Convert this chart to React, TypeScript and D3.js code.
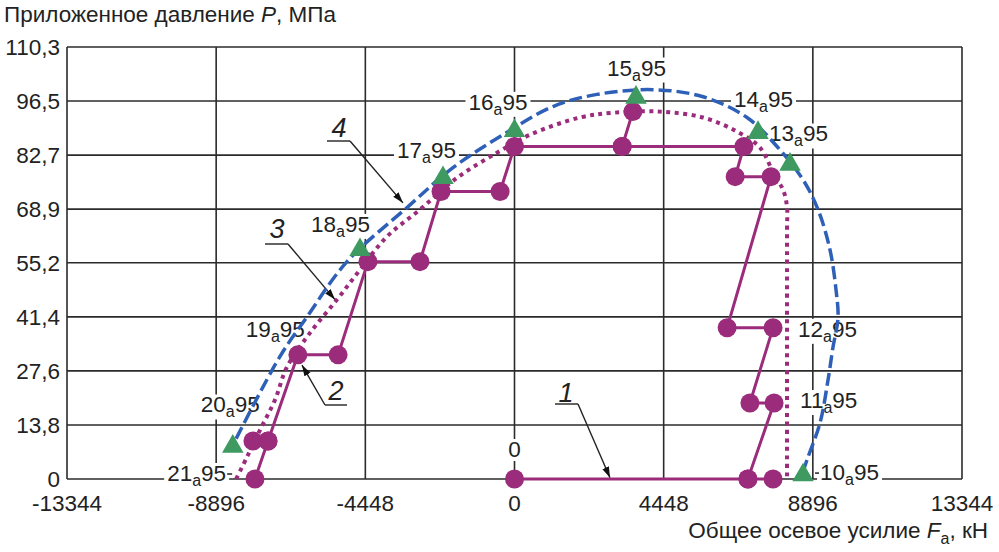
import React, { useEffect, useRef } from "react";
import * as d3 from "d3";

// ---- data ----
const X_TICKS = [-13344, -8896, -4448, 0, 4448, 8896, 13344];
const X_TICK_LABELS = ["-13344", "-8896", "-4448", "0", "4448", "8896", "13344"];
const Y_TICKS = [0, 13.8, 27.6, 41.4, 55.2, 68.9, 82.7, 96.5, 110.3];
const Y_TICK_LABELS = ["0", "13,8", "27,6", "41,4", "55,2", "68,9", "82,7", "96,5", "110,3"];

// load points on envelope (triangles)
const POINT_NAMES = ["20", "18", "17", "16", "15", "14", "13", "10"];
const POINT_F = [-8400, -4607, -2132, 0, 3623, 7261, 8215, 8604];
const POINT_P = [8.3, 58.5, 76.9, 88.9, 97.4, 88.4, 80.3, 1.0];

// curve 2: stepwise load path (circles)
const PATH_F = [0, 6960, 7710, 6960, 7740, 7020, 7710, 6340, 7650, 6580, 6840, 3210, 3530, 3210, 0, -430, -2190, -2820, -4370, -5260, -6460, -7350, -7800, -7350, -7740];
const PATH_P = [0, 0, 0, 0, 19.4, 19.4, 38.6, 38.6, 77.2, 77.2, 84.9, 84.9, 93.8, 84.9, 84.9, 73.4, 73.4, 55.5, 55.5, 31.7, 31.7, 9.7, 9.7, 9.7, 0];

// curve 3: dotted envelope
const DOT_F = [-8300, -7977, -7589, -7142, -6784, -6098, -5293, -4607, -3802, -2818, -1715, -522, 462, 1953, 2937, 4339, 5621, 6635, 7321, 7769, 8007, 8126, 8126, 8126];
const DOT_P = [0, 5.6, 12.5, 20.2, 28.6, 37.3, 45.8, 53.4, 61.9, 68.8, 76.9, 83.3, 87.9, 92.3, 93.5, 93.8, 92.3, 88.7, 84.6, 77.2, 73.9, 69.5, 63.6, 0];

// curve 4: dashed envelope
const DASH_F = [-8300, -7000, -6188, -4995, -3206, -1834, -343, 1148, 2460, 4130, 5621, 6933, 7828, 8603, 9050, 9408, 9587, 9647, 9498, 9349, 9110, 8722, 8603];
const DASH_P = [10.3, 31.2, 41.4, 55.5, 69.3, 79.5, 87.9, 95.1, 98.2, 99.4, 97.6, 92.3, 84.9, 76.4, 68.8, 58.5, 48.3, 41.2, 33.7, 25.3, 14.3, 4.9, 1.8];

// ---- layout (pixel offsets of annotations) ----
const LABEL_LAYOUT: { name: string; f: number; p: number; dx: number; dy: number; lead?: string }[] = [
  { name: "15", f: 3623, p: 97.4, dx: -29, dy: -22 },
  { name: "16", f: 0, p: 88.9, dx: -46, dy: -21 },
  { name: "14", f: 7261, p: 88.4, dx: -24, dy: -26 },
  { name: "13", f: 8215, p: 80.3, dx: -21, dy: -23 },
  { name: "17", f: -2132, p: 76.9, dx: -46, dy: -20 },
  { name: "18", f: -4607, p: 58.5, dx: -49, dy: -18 },
  { name: "19", f: -6460, p: 31.7, dx: -52, dy: -18 },
  { name: "20", f: -8400, p: 8.3, dx: -32, dy: -34 },
  { name: "21", f: -8300, p: 0, dx: -69, dy: 2, lead: "after" },
  { name: "12", f: 7710, p: 38.6, dx: 25, dy: 9 },
  { name: "11", f: 7740, p: 19.4, dx: 26, dy: 5 },
  { name: "10", f: 8604, p: 1.0, dx: 17, dy: 5, lead: "before" },
];

const CALLOUTS = [
  { num: "1", f: 2848, p: 0.3, tx: 566, ty: 402, ux0: 555, ux1: 578, uy: 404, from: "right" },
  { num: "2", f: -6337, p: 29.1, tx: 336, ty: 400, ux0: 325, ux1: 347, uy: 405, from: "left" },
  { num: "3", f: -5353, p: 45.8, tx: 277, ty: 238, ux0: 265, ux1: 288, uy: 244, from: "right" },
  { num: "4", f: -3325, p: 70.5, tx: 339, ty: 137, ux0: 327, ux1: 350, uy: 141, from: "right" },
];

const W = 999;
const H = 552;
const FONT = "'Liberation Sans', Arial, sans-serif";
const FS = 22.5;
const FS_SUB = 16;
const PURPLE = "#9b2b7b";
const BLUE = "#2f60b8";
const GREEN = "#3e9a60";
const GRID = "#2b2b2b";

export default function App() {
  const ref = useRef<SVGSVGElement>(null);

  useEffect(() => {
    const svg = d3.select(ref.current!);
    svg.selectAll("*").remove();

    const x = d3.scaleLinear().domain([-13344, 13344]).range([67, 962]);
    const y = d3.scaleLinear().domain([0, 110.3]).range([479, 47]);

    const defs = svg.append("defs");
    defs
      .append("marker")
      .attr("id", "arr")
      .attr("markerUnits", "userSpaceOnUse")
      .attr("markerWidth", 12)
      .attr("markerHeight", 8)
      .attr("refX", 11)
      .attr("refY", 3.5)
      .attr("orient", "auto")
      .append("path")
      .attr("d", "M0,0 L11,3.5 L0,7 Z")
      .attr("fill", "#111");

    svg.append("rect").attr("width", W).attr("height", H).attr("fill", "#fff");

    // grid
    const grid = svg.append("g").attr("stroke", GRID).attr("stroke-width", 1.6);
    X_TICKS.forEach((t) => {
      grid.append("line").attr("x1", x(t)).attr("x2", x(t)).attr("y1", y(0)).attr("y2", y(110.3));
    });
    Y_TICKS.forEach((t) => {
      grid.append("line").attr("x1", x(-13344)).attr("x2", x(13344)).attr("y1", y(t)).attr("y2", y(t));
    });

    // tick labels
    const tl = svg.append("g").attr("font-family", FONT).attr("font-size", FS).attr("fill", "#222");
    X_TICKS.forEach((t, i) => {
      tl.append("text").attr("x", x(t)).attr("y", 511).attr("text-anchor", "middle").text(X_TICK_LABELS[i]);
    });
    Y_TICKS.forEach((t, i) => {
      tl.append("text").attr("x", 60).attr("y", y(t)).attr("dy", "0.36em").attr("text-anchor", "end").text(Y_TICK_LABELS[i]);
    });

    // axis titles
    const yt = svg.append("text").attr("x", 4).attr("y", 22).attr("font-family", FONT).attr("font-size", FS).attr("fill", "#222");
    yt.append("tspan").text("Приложенное давление ");
    yt.append("tspan").attr("font-style", "italic").text("P");
    yt.append("tspan").text(", МПа");

    const xt = svg.append("text").attr("x", 988).attr("y", 538).attr("text-anchor", "end").attr("font-family", FONT).attr("font-size", FS).attr("fill", "#222");
    xt.append("tspan").text("Общее осевое усилие ");
    xt.append("tspan").attr("font-style", "italic").text("F");
    xt.append("tspan").attr("font-size", FS_SUB).attr("dy", 6).text("a");
    xt.append("tspan").attr("dy", -6).text(", кН");

    // point labels with white background
    const lg = svg.append("g").attr("font-family", FONT).attr("fill", "#222");
    const drawLabel = (txt: string, px: number, py: number, sub: boolean, anchor = "start") => {
      const bg = lg.append("rect").attr("fill", "#fff");
      const t = lg.append("text").attr("x", px).attr("y", py).attr("font-size", FS).attr("text-anchor", anchor);
      t.append("tspan").text(txt);
      if (sub) {
        t.append("tspan").attr("font-size", FS_SUB).attr("dy", 5).text("a");
        t.append("tspan").attr("dy", -5).text("95");
      }
      const b = (t.node() as SVGTextElement).getBBox();
      bg.attr("x", b.x - 3).attr("y", b.y + 2).attr("width", b.width + 6).attr("height", b.height - 3);
      return b;
    };
    LABEL_LAYOUT.forEach((l) => {
      const px = x(l.f) + l.dx;
      const py = y(l.p) + l.dy;
      const b = drawLabel(l.name, px, py, true);
      if (l.lead === "after") {
        lg.append("line").attr("x1", b.x + b.width + 1).attr("x2", b.x + b.width + 6).attr("y1", py - 7).attr("y2", py - 7).attr("stroke", "#222").attr("stroke-width", 1.5);
      }
      if (l.lead === "before") {
        lg.append("line").attr("x1", b.x - 5).attr("x2", b.x - 1).attr("y1", py - 7).attr("y2", py - 7).attr("stroke", "#222").attr("stroke-width", 1.5);
      }
    });
    drawLabel("0", x(0), y(0) - 22, false, "middle");

    // callouts
    const cg = svg.append("g");
    CALLOUTS.forEach((c) => {
      cg.append("text").attr("x", c.tx).attr("y", c.ty).attr("text-anchor", "middle").attr("font-family", FONT).attr("font-style", "italic").attr("font-size", 27).attr("fill", "#222").text(c.num);
      cg.append("line").attr("x1", c.ux0).attr("x2", c.ux1).attr("y1", c.uy).attr("y2", c.uy).attr("stroke", "#222").attr("stroke-width", 1.4);
      const sx = c.from === "right" ? c.ux1 : c.ux0;
      cg.append("line").attr("x1", sx).attr("y1", c.uy).attr("x2", x(c.f)).attr("y2", y(c.p)).attr("stroke", "#222").attr("stroke-width", 1.4).attr("marker-end", "url(#arr)");
    });

    // curves
    const line = d3.line<[number, number]>().x((d) => x(d[0])).y((d) => y(d[1]));
    const dashPts: [number, number][] = DASH_F.map((f, i) => [f, DASH_P[i]]);
    svg.append("path").attr("d", line.curve(d3.curveCatmullRom.alpha(0.5))(dashPts)!).attr("fill", "none").attr("stroke", BLUE).attr("stroke-width", 3.5).attr("stroke-dasharray", "13 5");

    const dotPts: [number, number][] = DOT_F.map((f, i) => [f, DOT_P[i]]);
    svg.append("path").attr("d", line.curve(d3.curveCatmullRom.alpha(0.5))(dotPts)!).attr("fill", "none").attr("stroke", PURPLE).attr("stroke-width", 4).attr("stroke-dasharray", "4 4.5");

    const pathPts: [number, number][] = PATH_F.map((f, i) => [f, PATH_P[i]]);
    svg.append("path").attr("d", line.curve(d3.curveLinear)(pathPts)!).attr("fill", "none").attr("stroke", PURPLE).attr("stroke-width", 3).attr("stroke-linejoin", "round");
    svg
      .append("g")
      .selectAll("circle")
      .data(pathPts)
      .join("circle")
      .attr("cx", (d) => x(d[0]))
      .attr("cy", (d) => y(d[1]))
      .attr("r", 9.5)
      .attr("fill", PURPLE);

    const tri = d3.symbol().type(d3.symbolTriangle).size(200);
    svg
      .append("g")
      .selectAll("path")
      .data(POINT_NAMES.map((n, i) => [POINT_F[i], POINT_P[i]]))
      .join("path")
      .attr("d", tri()!)
      .attr("transform", (d) => `translate(${x(d[0])},${y(d[1])})`)
      .attr("fill", GREEN);
  }, []);

  return <svg ref={ref} width={W} height={H} style={{ position: "absolute", left: 0, top: 0, background: "#fff" }} />;
}
